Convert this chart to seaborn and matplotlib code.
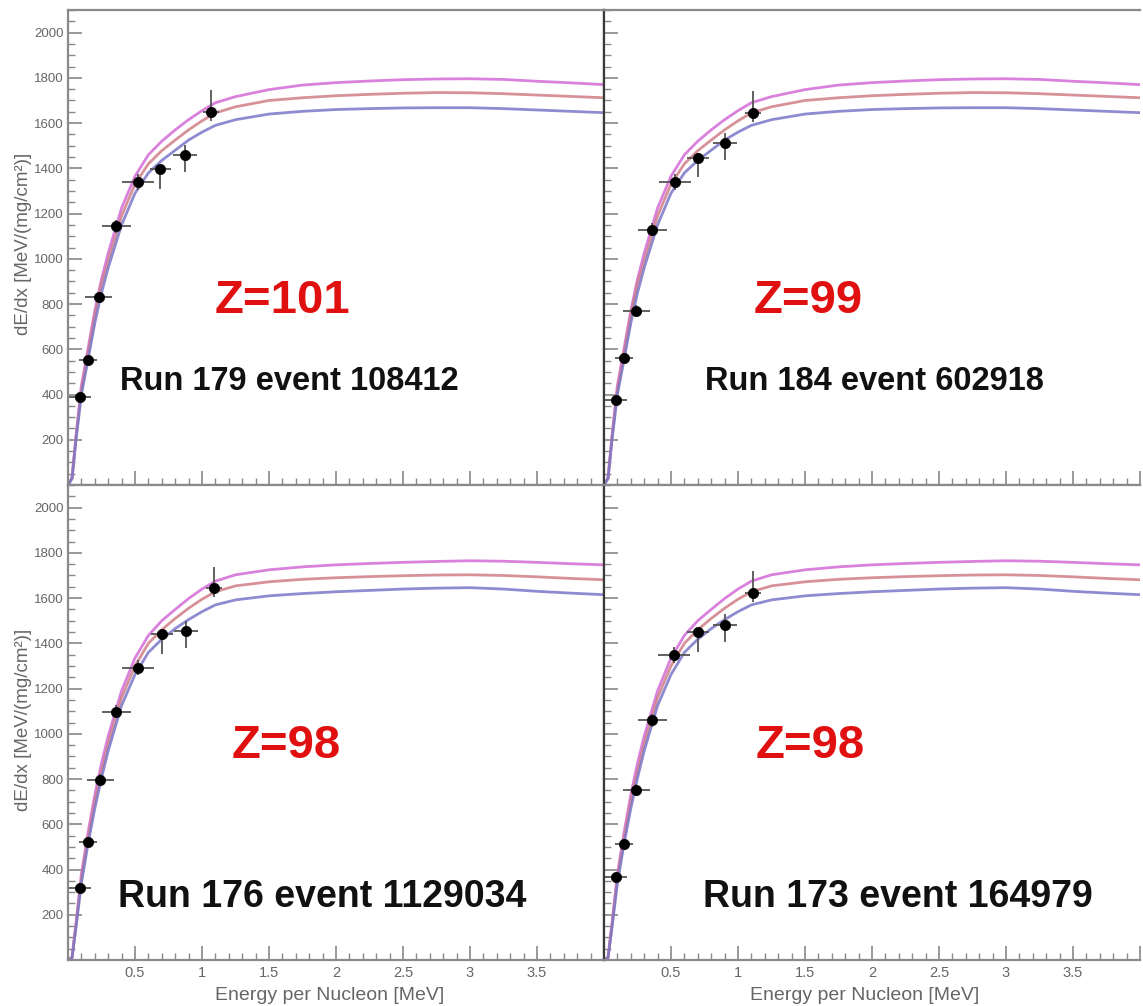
import numpy as np
import pandas as pd
import matplotlib
matplotlib.use("Agg")
import matplotlib.pyplot as plt
import seaborn as sns
from matplotlib.ticker import MultipleLocator, FuncFormatter

# ---------------- data ----------------
energy_grid = [0, 0.03, 0.06, 0.1, 0.15, 0.2, 0.25, 0.3, 0.4, 0.5, 0.6, 0.7, 0.8, 0.9,
               1.0, 1.1, 1.25, 1.5, 1.75, 2.0, 2.25, 2.5, 2.75, 3.0, 3.25, 3.5, 3.75, 4.0]

top_pink = [0, 32, 220, 440, 605, 770, 910, 1025, 1225, 1365, 1460, 1520, 1570, 1615,
            1655, 1690, 1717, 1748, 1768, 1779, 1786, 1792, 1795, 1796, 1793, 1785, 1778, 1770]
top_red = [0, 30, 210, 420, 580, 750, 890, 990, 1190, 1330, 1420, 1478, 1525, 1570,
           1610, 1645, 1672, 1700, 1712, 1721, 1727, 1732, 1735, 1734, 1730, 1724, 1718, 1712]
top_blue = [0, 28, 200, 400, 555, 715, 850, 960, 1150, 1290, 1380, 1435, 1480, 1525,
            1560, 1590, 1615, 1640, 1652, 1660, 1664, 1667, 1668, 1668, 1664, 1658, 1652, 1646]

bot_pink = [0, 12, 165, 380, 565, 730, 870, 990, 1190, 1335, 1435, 1500, 1550, 1598,
            1640, 1675, 1703, 1725, 1738, 1747, 1753, 1758, 1762, 1765, 1763, 1758, 1752, 1747]
bot_red = [0, 10, 155, 360, 540, 700, 835, 955, 1160, 1300, 1400, 1460, 1510, 1555,
           1595, 1628, 1654, 1672, 1683, 1690, 1695, 1699, 1702, 1703, 1700, 1694, 1687, 1681]
bot_blue = [0, 9, 145, 340, 515, 670, 805, 925, 1125, 1262, 1360, 1418, 1465, 1505,
            1540, 1570, 1592, 1610, 1620, 1628, 1634, 1640, 1644, 1646, 1640, 1630, 1622, 1615]

# measured points per panel
tl_e = [0.09, 0.15, 0.23, 0.36, 0.52, 0.69, 0.87, 1.07]
tl_v = [390, 552, 830, 1143, 1338, 1395, 1460, 1651]
tr_e = [0.09, 0.15, 0.24, 0.36, 0.53, 0.70, 0.90, 1.11]
tr_v = [377, 563, 770, 1129, 1341, 1447, 1513, 1646]
bl_e = [0.09, 0.15, 0.24, 0.36, 0.52, 0.70, 0.88, 1.09]
bl_v = [319, 523, 797, 1098, 1293, 1440, 1453, 1643]
br_e = [0.09, 0.15, 0.24, 0.36, 0.52, 0.70, 0.90, 1.11]
br_v = [368, 514, 752, 1059, 1350, 1448, 1483, 1624]

x_err = [0.08, 0.07, 0.10, 0.11, 0.12, 0.08, 0.09, 0.06]
y_err_lo = [15, 20, 25, 30, 35, 85, 75, 40]
y_err_hi = [15, 20, 25, 30, 35, 20, 45, 95]

z_labels = ["Z=101", "Z=99", "Z=98", "Z=98"]
run_labels = ["Run 179 event 108412", "Run 184 event 602918",
              "Run 176 event 1129034", "Run 173 event 164979"]

x_label = "Energy per Nucleon [MeV]"
y_label = "dE/dx [MeV/(mg/cm²)]"

band_names = ["upper", "central", "lower"]
band_colors = {"upper": "#d36bd6", "central": "#cf7f86", "lower": "#7b77c8"}

# ---------------- style ----------------
sns.set_theme(style="white")
plt.rcParams['font.family'] = ['Liberation Sans', 'DejaVu Sans']

W, H = 1143, 1006
fig = plt.figure(figsize=(W / 100, H / 100), dpi=100)


def rect(l, t, r, b):
    return [l / W, 1 - b / H, (r - l) / W, (b - t) / H]


def curves_df(p, r, b):
    rows = []
    for name, vals in zip(band_names, [p, r, b]):
        for e, v in zip(energy_grid, vals):
            rows.append({"energy": e, "dedx": v, "band": name})
    return pd.DataFrame(rows)


top_df = curves_df(top_pink, top_red, top_blue)
bot_df = curves_df(bot_pink, bot_red, bot_blue)

panels = [
    dict(r=rect(68, 10, 604, 485), df=top_df, e=tl_e, v=tl_v, left=True, bottom=False,
         z=z_labels[0], zpos=(0.401, 0.388), run=run_labels[0], rpos=(0.412, 0.218), rsize=23.5),
    dict(r=rect(604, 10, 1140, 485), df=top_df, e=tr_e, v=tr_v, left=False, bottom=False,
         z=z_labels[1], zpos=(0.381, 0.388), run=run_labels[1], rpos=(0.504, 0.218), rsize=23.5),
    dict(r=rect(68, 485, 604, 960), df=bot_df, e=bl_e, v=bl_v, left=True, bottom=True,
         z=z_labels[2], zpos=(0.407, 0.450), run=run_labels[2], rpos=(0.474, 0.133), rsize=27),
    dict(r=rect(604, 485, 1140, 960), df=bot_df, e=br_e, v=br_v, left=False, bottom=True,
         z=z_labels[3], zpos=(0.384, 0.450), run=run_labels[3], rpos=(0.549, 0.133), rsize=27),
]

xfmt = FuncFormatter(lambda v, p: '' if (v < 0.01 or v > 3.99) else f'{v:g}')
yfmt = FuncFormatter(lambda v, p: '' if (v < 1 or v > 2001) else f'{int(round(v))}')

for P in panels:
    ax = fig.add_axes(P["r"])
    sns.lineplot(data=P["df"], x="energy", y="dedx", hue="band", palette=band_colors,
                 hue_order=band_names, sort=False, legend=False, ax=ax,
                 lw=2.0, alpha=0.85, zorder=2)
    ax.errorbar(P["e"], P["v"], xerr=x_err, yerr=[y_err_lo, y_err_hi], fmt='none',
                ecolor='#555555', elinewidth=1.3, capsize=0, zorder=3)
    sns.scatterplot(x=P["e"], y=P["v"], ax=ax, color='black', s=55, marker='o',
                    edgecolor='black', linewidth=0.5, zorder=4, legend=False)

    ax.set_xlim(0, 4)
    ax.set_ylim(0, 2100)
    ax.xaxis.set_major_locator(MultipleLocator(0.5))
    ax.xaxis.set_minor_locator(MultipleLocator(0.1))
    ax.yaxis.set_major_locator(MultipleLocator(200))
    ax.yaxis.set_minor_locator(MultipleLocator(50))
    ax.xaxis.set_major_formatter(xfmt)
    ax.yaxis.set_major_formatter(yfmt)
    ax.tick_params(which='both', direction='in', bottom=True, left=True, top=False,
                   right=False, color='#888888', labelcolor='#666666', labelsize=9.5)
    ax.tick_params(which='major', length=10, width=1.2, pad=3)
    ax.tick_params(which='minor', length=5, width=1.0)
    ax.tick_params(axis='x', which='major', pad=4, labelsize=10.5)
    if not P["left"]:
        ax.tick_params(axis='y', labelleft=False)
    if not P["bottom"]:
        ax.tick_params(axis='x', labelbottom=False)
    ax.set_xlabel('')
    ax.set_ylabel('')
    ax.grid(False)

    for side in ['top', 'bottom', 'left', 'right']:
        ax.spines[side].set_color('#8a8a8a')
        ax.spines[side].set_linewidth(1.6)
    if P["left"]:
        ax.spines['right'].set_color('#3a3a3a')
    else:
        ax.spines['left'].set_color('#3a3a3a')
        ax.spines['right'].set_visible(False)

    ax.text(P["zpos"][0], P["zpos"][1], P["z"], transform=ax.transAxes, color='#e01010',
            fontsize=34, fontweight='bold', ha='center', va='center', zorder=6)
    ax.text(P["rpos"][0], P["rpos"][1], P["run"], transform=ax.transAxes, color='#111111',
            fontsize=P["rsize"], fontweight='bold', ha='center', va='center', zorder=6)

# axis titles
fig.text(24 / W, 1 - 244 / H, y_label, rotation=90, ha='center', va='center',
         fontsize=13.5, color='#666666')
fig.text(24 / W, 1 - 720 / H, y_label, rotation=90, ha='center', va='center',
         fontsize=13.5, color='#666666')
fig.text(330 / W, 1 - 995 / H, x_label, ha='center', va='center', fontsize=14, color='#666666')
fig.text(865 / W, 1 - 995 / H, x_label, ha='center', va='center', fontsize=14, color='#666666')

fig.savefig("out.png", dpi=100)
